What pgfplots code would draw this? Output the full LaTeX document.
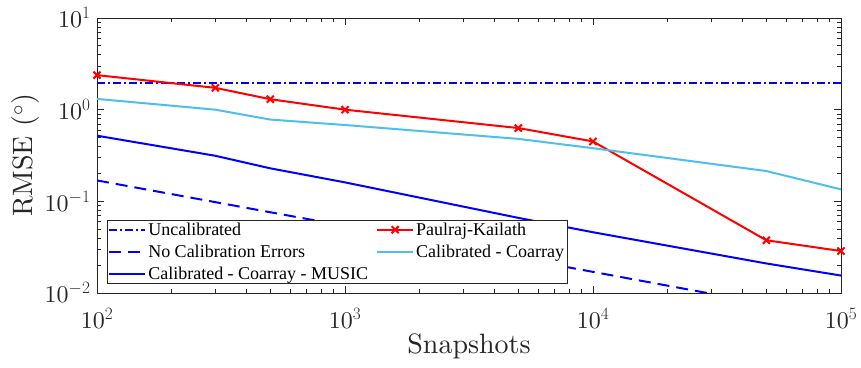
\documentclass[border=0pt]{standalone}
\usepackage{pgfplots}
\pgfplotsset{compat=1.18}
\usepackage{fontspec}
\setmainfont{lmroman10-regular.otf}[ItalicFont=lmroman10-italic.otf, BoldFont=lmroman10-bold.otf]
\newfontfamily\legendfont{Liberation Serif}
\definecolor{axgray}{RGB}{38,38,38}
\definecolor{lightblue}{RGB}{77,190,238}

\begin{document}
\begin{tikzpicture}
\begin{axis}[
  scale only axis,
  width=744pt, height=275pt,
  xmode=log, ymode=log,
  xmin=1e2, xmax=1e5,
  ymin=1e-2, ymax=1e1,
  xtick={1e2,1e3,1e4,1e5},
  xticklabels={10$^{2}$,10$^{3}$,10$^{4}$,10$^{5}$},
  ytick={1e-2,1e-1,1e0,1e1},
  yticklabels={10$^{-2}$,10$^{-1}$,10$^{0}$,10$^{1}$},
  axis line style={axgray, line width=0.8pt},
  every tick/.style={axgray, line width=0.6pt},
  tick align=inside,
  major tick length=7pt,
  minor tick length=4pt,
  ticklabel style={text=axgray, font=\fontsize{24}{29}\selectfont},
  xticklabel style={yshift=-12pt},
  yticklabel style={xshift=-3pt},
  label style={text=axgray, font=\fontsize{28}{33}\selectfont},
  xlabel={Snapshots},
  ylabel={RMSE ($^\circ$)},
  xlabel style={yshift=2pt},
  ylabel style={yshift=-2pt},
  legend columns=2,
  legend cell align=left,
  legend style={
    at={(rel axis cs:0.0134,0.033)}, anchor=south west,
    font=\legendfont\fontsize{18}{21}\selectfont,
    draw=axgray, line width=0.6pt, fill=white,
    inner xsep=1pt, inner ysep=1pt,
    row sep=6pt,
    nodes={inner ysep=1.2pt, inner xsep=2pt},
    /tikz/every even column/.append style={column sep=6pt},
  },
  legend image code/.code={%
    \draw[mark repeat=2,mark phase=2] plot coordinates {(0pt,0pt) (18pt,0pt) (36pt,0pt)};%
  },
]
\addplot[blue, line width=2pt, dash pattern=on 8pt off 3pt on 2pt off 3pt]
  coordinates {(100,1.96) (300,1.96) (500,1.96) (1000,1.96) (5000,1.96) (10000,1.96) (50000,1.96) (100000,1.96)};
\addlegendentry{Uncalibrated}

\addplot[red, line width=2pt, mark=x, mark size=5pt, mark options={solid, line width=2pt}]
  coordinates {(100,2.38) (300,1.73) (500,1.30) (1000,1.00) (5000,0.63) (10000,0.45) (50000,0.0376) (100000,0.0287)};
\addlegendentry{Paulraj-Kailath}

\addplot[blue, line width=2pt, dash pattern=on 12pt off 7pt]
  coordinates {(100,0.169) (300,0.098) (500,0.076) (1000,0.054) (5000,0.024) (10000,0.017) (50000,0.0076) (100000,0.0054)};
\addlegendentry{No Calibration Errors}

\addplot[lightblue, line width=2pt]
  coordinates {(100,1.31) (300,1.00) (500,0.78) (1000,0.68) (5000,0.48) (10000,0.38) (50000,0.214) (100000,0.135)};
\addlegendentry{Calibrated - Coarray}

\addplot[blue, line width=2pt]
  coordinates {(100,0.52) (300,0.314) (500,0.229) (1000,0.161) (5000,0.066) (10000,0.046) (50000,0.021) (100000,0.0155)};
\addlegendentry{Calibrated - Coarray - MUSIC}
\end{axis}
\path ([xshift=-97pt,yshift=18pt]current axis.north west) rectangle ([xshift=20pt,yshift=-75pt]current axis.south east);
\end{tikzpicture}
\end{document}
